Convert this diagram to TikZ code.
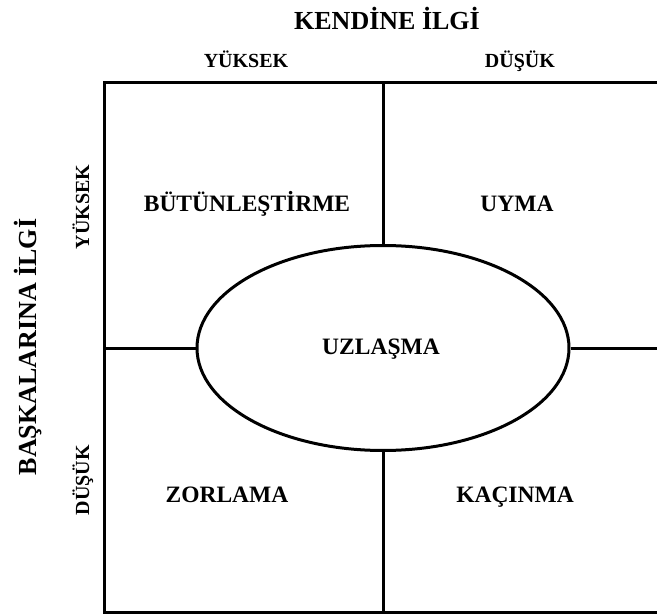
\documentclass[tikz,border=0pt]{standalone}
\usepackage{fontspec}
\setmainfont{Liberation Serif}
\usetikzlibrary{shapes.geometric}

\begin{document}
\begin{tikzpicture}[
    x=1pt, y=-1pt,
    frame/.style={line width=3pt},
    axistitle/.style={anchor=base, font=\bfseries\fontsize{26}{30}\selectfont},
    level/.style={anchor=base, font=\bfseries\fontsize{20}{24}\selectfont},
    quadrant/.style={anchor=base, font=\bfseries\fontsize{23.5}{27}\selectfont}
]
\useasboundingbox (0,0) rectangle (657,615);

% Frame corners
\coordinate (tl) at (104,83);
\coordinate (tr) at (657,83);
\coordinate (bl) at (104,612);
\coordinate (br) at (657,612);

% Outer frame (open to the right)
\draw[frame] (tr) -- (tl) -- (bl) -- (br);

% Compromise ellipse
\node[ellipse, draw, frame, minimum width=372pt, minimum height=205pt, inner sep=0pt] (uzl) at (383,348) {};
\node[quadrant] (uzltext) at (381,355) {UZLAŞMA};

% Dividers
\draw[frame] (uzl.north) -- (uzl.north |- tl);
\draw[frame] (uzl.south) -- (uzl.south |- bl);
\draw[frame] (uzl.west) -- (uzl.west -| tl);
\draw[frame] (uzl.east) -- (uzl.east -| tr);

% Axis titles
\node[axistitle] (kendine) at (387,30) {KENDİNE İLGİ};
\node[axistitle, rotate=90] (baskalari) at (37,347) {BAŞKALARINA İLGİ};

% Levels
\node[level] (kyuksek) at (246,68) {YÜKSEK};
\node[level] (kdusuk) at (520,68) {DÜŞÜK};
\node[level, rotate=90] (byuksek) at (89,207) {YÜKSEK};
\node[level, rotate=90] (bdusuk) at (89,480) {DÜŞÜK};

% Quadrants
\node[quadrant] (butun) at (247,212) {BÜTÜNLEŞTİRME};
\node[quadrant] (uyma) at (517,212) {UYMA};
\node[quadrant] (zorlama) at (227,502) {ZORLAMA};
\node[quadrant] (kacinma) at (515,502) {KAÇINMA};

\end{tikzpicture}
\end{document}
